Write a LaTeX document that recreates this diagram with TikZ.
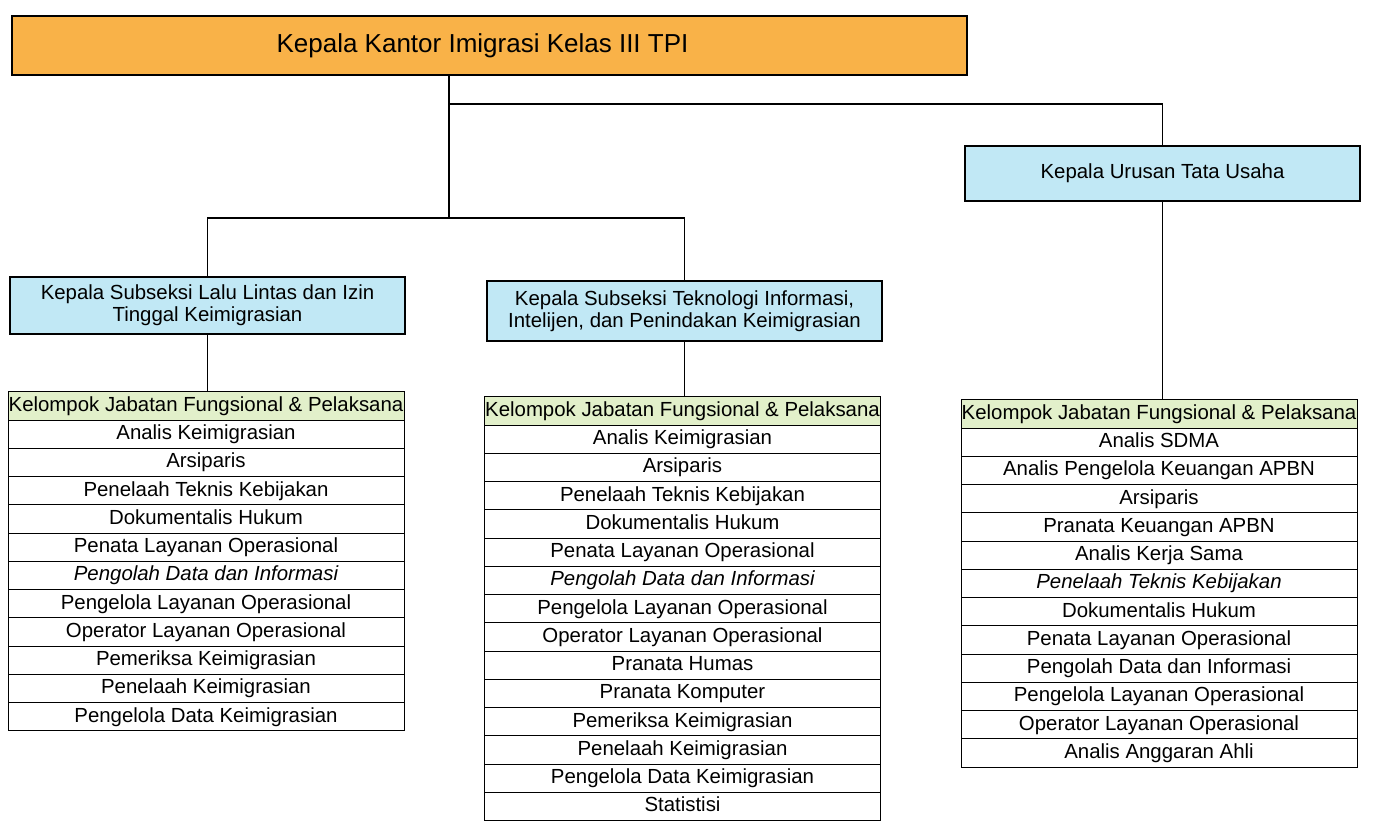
\documentclass[tikz,border=0pt]{standalone}
\usepackage{fontspec}
\setmainfont{Liberation Sans}
\usetikzlibrary{positioning}
\definecolor{oranye}{RGB}{249,178,72}
\definecolor{biru}{RGB}{193,232,245}
\definecolor{hijau}{RGB}{226,240,202}

\begin{document}
\begin{tikzpicture}[x=0.5pt, y=-0.5pt,
    kotak/.style={draw, line width=0.6pt, inner sep=0pt, outer sep=0pt, align=center,
      font=\fontsize{10.2}{11.2}\selectfont},
    baris/.style={draw, line width=0.5pt, minimum width=198pt, minimum height=14.125pt,
      text height=7.4pt, text depth=2.1pt,
      inner sep=0pt, outer sep=0pt, font=\fontsize{10.2}{12}\selectfont},
    judul/.style={baris, fill=hijau}]
        \useasboundingbox (0,0) rectangle (1374,822);

        % Kepala kantor
        \node[kotak, fill=oranye, minimum width=477.5pt, minimum height=29.5pt,
          font=\fontsize{13}{15}\selectfont] (kepala) at (489.5,45.5) {Kepala Kantor Imigrasi Kelas III TPI\hspace{7pt}};

        % Kepala urusan dan subseksi
        \node[kotak, fill=biru, minimum width=197.5pt, minimum height=27.5pt] (tu) at (1162.5,173.5) {Kepala Urusan Tata Usaha};
        \node[kotak, fill=biru, minimum width=197.5pt, minimum height=28.5pt] (lalu) at (207.5,305.5)
          {Kepala Subseksi Lalu Lintas dan Izin\\Tinggal Keimigrasian};
        \node[kotak, fill=biru, minimum width=197.5pt, minimum height=30pt] (tekno) at (684.5,311)
          {Kepala Subseksi Teknologi Informasi,\\Intelijen, dan Penindakan Keimigrasian};

        % Kelompok jabatan (kiri)
        \node[judul] (L0) at (206,406) {Kelompok Jabatan Fungsional \& Pelaksana};
        \foreach \teks [count=\i] in {Analis Keimigrasian, Arsiparis, Penelaah Teknis Kebijakan,
            Dokumentalis Hukum, Penata Layanan Operasional, {\itshape Pengolah Data dan Informasi},
            Pengelola Layanan Operasional, Operator Layanan Operasional, Pemeriksa Keimigrasian,
            Penelaah Keimigrasian, Pengelola Data Keimigrasian}
          \node[baris] (L\i) at (206,{406+28.25*\i}) {\teks};

        % Kelompok jabatan (tengah)
        \node[judul] (T0) at (682.5,411) {Kelompok Jabatan Fungsional \& Pelaksana};
        \foreach \teks [count=\i] in {Analis Keimigrasian, Arsiparis, Penelaah Teknis Kebijakan,
            Dokumentalis Hukum, Penata Layanan Operasional, {\itshape Pengolah Data dan Informasi},
            Pengelola Layanan Operasional, Operator Layanan Operasional, Pranata Humas,
            Pranata Komputer, Pemeriksa Keimigrasian, Penelaah Keimigrasian,
            Pengelola Data Keimigrasian, Statistisi}
          \node[baris] (T\i) at (682.5,{411+28.25*\i}) {\teks};

        % Kelompok jabatan (kanan)
        \node[judul] (K0) at (1159,414) {Kelompok Jabatan Fungsional \& Pelaksana};
        \foreach \teks [count=\i] in {Analis SDMA, Analis Pengelola Keuangan APBN, Arsiparis,
            Pranata Keuangan APBN, Analis Kerja Sama, {\itshape Penelaah Teknis Kebijakan},
            Dokumentalis Hukum, Penata Layanan Operasional, Pengolah Data dan Informasi,
            Pengelola Layanan Operasional, Operator Layanan Operasional, Analis Anggaran Ahli}
          \node[baris] (K\i) at (1159,{414+28.25*\i}) {\teks};

        % Garis hubung
        \coordinate (cab) at (449,104);
        \coordinate (cab2) at (449,218);
        \draw[line width=0.6pt] (kepala.south -| cab) -- (cab2);
        \draw[line width=0.6pt] (cab) -| (tu.north);
        \draw[line width=0.6pt] (lalu.north) |- (cab2) -| (tekno.north);
        \draw[line width=0.6pt] (tu.south) -- (tu.south |- K0.north);
        \draw[line width=0.6pt] (lalu.south) -- (lalu.south |- L0.north);
        \draw[line width=0.6pt] (tekno.south) -- (tekno.south |- T0.north);

    \end{tikzpicture}
\end{document}
